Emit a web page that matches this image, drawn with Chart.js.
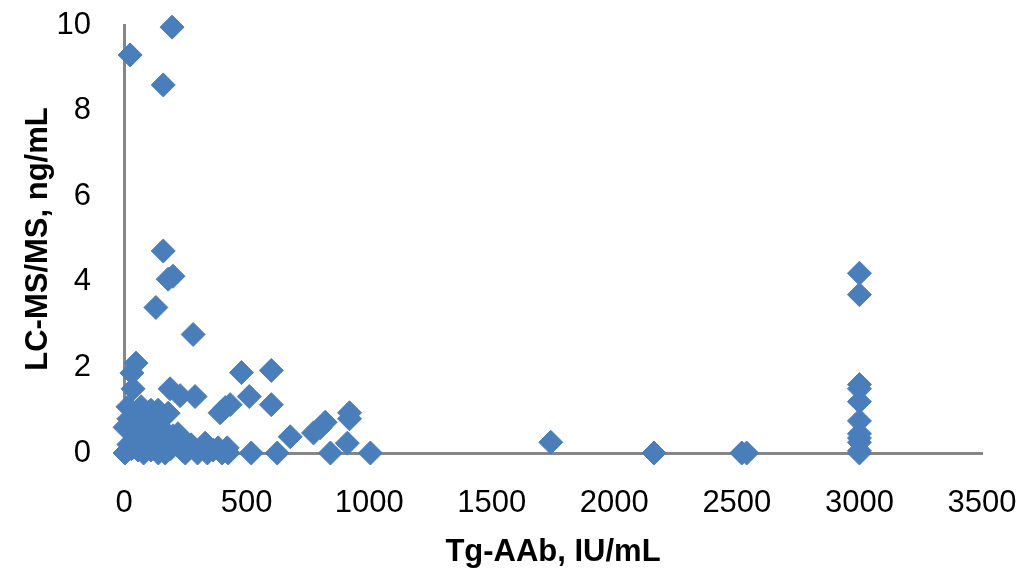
<!DOCTYPE html>
<html>
<head>
<meta charset="utf-8">
<script src="https://cdn.jsdelivr.net/npm/chart.js@4"></script>
<style>
  html, body { margin: 0; padding: 0; background: #fff; }
  #wrap { width: 1024px; height: 578px; }
</style>
</head>
<body>
<div id="wrap"><canvas id="scatterChart" width="1024" height="578"></canvas></div>
<script>
// Tg-AAb (IU/mL) vs LC-MS/MS (ng/mL)
const tgAAb = [
    25, 196, 160, 160, 200, 180, 130, 282,
    49, 32, 37, 479, 601, 188, 229, 290, 511, 601, 433, 392, 413, 16, 70, 139, 180,
    920, 920, 821, 800, 773, 678, 911, 1005, 842, 625, 519, 220,
    1741, 2162, 2520, 2540,
    4, 57, 110, 150, 90, 130, 40, 170, 4, 30, 57, 80, 110, 140, 168, 190, 274, 250, 300,
    331, 323, 364, 384, 421, 425, 340, 400, 20, 100, 200, 60, 240, 130, 90, 160, 20, 110, 12, 65,
    3000, 3000, 3000, 3000, 3000, 3000, 3000, 3000, 3000, 3000, 3000
];
const lcms = [
    9.3, 9.95, 8.6, 4.72, 4.13, 4.06, 3.4, 2.77,
    2.1, 1.87, 1.5, 1.88, 1.93, 1.5, 1.34, 1.32, 1.32, 1.13, 1.13, 0.94, 1.06, 1.08, 1.08, 1.0, 0.93,
    0.94, 0.8, 0.72, 0.59, 0.47, 0.38, 0.23, 0, 0, 0, 0, 0.45,
    0.25, 0, 0, 0,
    0.6, 0.6, 0.54, 0.6, 0.35, 0.3, 0.3, 0.25, 0, 0.1, 0.07, 0, 0.07, 0, 0, 0.1, 0.19, 0, 0,
    0.23, 0.14, 0.07, 0.12, 0.12, 0, 0, 0, 0.2, 0.2, 0.4, 0.4, 0.05, 0.75, 0.8, 0.85, 0.8, 1.0, 0.6, 0.85,
    4.2, 3.7, 1.6, 1.5, 1.2, 0.75, 0.45, 0.35, 0.25, 0.05, 0
];
const xTicks = [0, 500, 1000, 1500, 2000, 2500, 3000, 3500];
const yTicks = [0, 2, 4, 6, 8, 10];

const points = tgAAb.map((x, i) => ({ x: x, y: lcms[i] }));

const tickFont = { family: "'Liberation Sans', sans-serif", size: 31 };
const titleFont = { family: "'Liberation Sans', sans-serif", size: 31, weight: 'bold' };

new Chart(document.getElementById('scatterChart'), {
    type: 'scatter',
    data: {
        datasets: [{
            label: 'LC-MS/MS',
            data: points,
            pointStyle: 'rectRot',
            pointRadius: 12,
            pointHoverRadius: 12,
            backgroundColor: '#4a7ebb',
            borderColor: '#4a7ebb',
            borderWidth: 1,
            clip: false
        }]
    },
    options: {
        responsive: false,
        animation: false,
        layout: { padding: { top: 25, right: 42, left: 0, bottom: 0 } },
        plugins: {
            legend: { display: false },
            tooltip: { enabled: false }
        },
        scales: {
            x: {
                type: 'linear',
                min: xTicks[0],
                max: xTicks[xTicks.length - 1],
                afterBuildTicks: scale => { scale.ticks = xTicks.map(v => ({ value: v })); },
                afterFit: scale => {
                    scale.height = 125;
                    scale.paddingLeft = 0;
                    scale.paddingRight = 0;
                },
                grid: { display: false },
                border: { display: true, color: '#868686', width: 3 },
                ticks: { color: '#000', font: tickFont, padding: 24, callback: v => String(v) },
                title: { display: true, text: 'Tg-AAb, IU/mL', color: '#000', font: titleFont, padding: { top: 0, bottom: 7 } }
            },
            y: {
                type: 'linear',
                min: yTicks[0],
                max: yTicks[yTicks.length - 1],
                afterBuildTicks: scale => { scale.ticks = yTicks.map(v => ({ value: v })); },
                afterFit: scale => {
                    scale.width = 124;
                    scale.paddingTop = 0;
                    scale.paddingBottom = 0;
                },
                grid: { display: false },
                border: { display: true, color: '#868686', width: 3 },
                ticks: { color: '#000', font: tickFont, padding: 25, callback: v => String(v) },
                title: { display: true, text: 'LC-MS/MS, ng/mL', color: '#000', font: titleFont, padding: { top: 20, bottom: 0 } }
            }
        }
    }
});
</script>
</body>
</html>
